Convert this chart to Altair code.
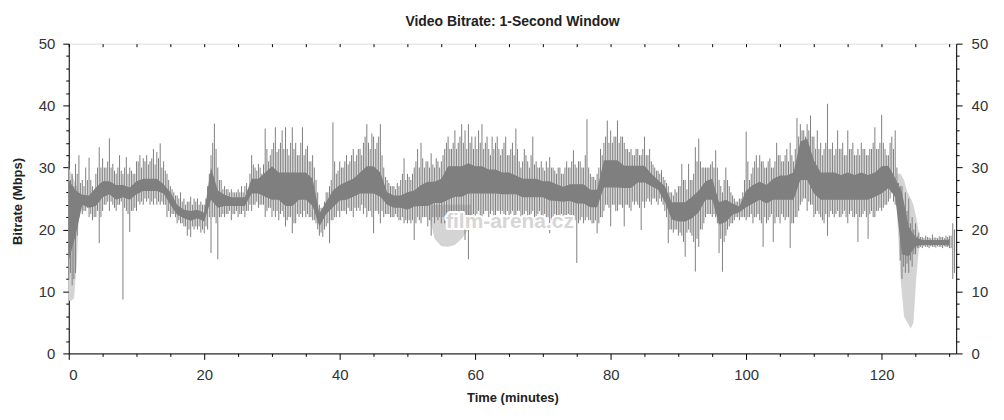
import altair as alt
import pandas as pd

# ---- data (Mbps) ----
# dense core band of the 1-second bitrate trace, one value per minute (t = 0..130)
core_lo = [15, 19, 24, 23.5, 23.8, 25.2, 25.7, 24.8, 25.2, 24.8,
           25.7, 26.2, 26.2, 26.2, 25.8, 24, 22.4, 21.8, 21.4, 21.8,
           21.3, 24.8, 23.5, 23.8, 23.8, 23.8, 23.8, 25.8, 25.8, 25.3,
           24.8, 24.8, 23.8, 23.8, 24.8, 24.8, 23.8, 20.5, 22.5, 23.6,
           24.7, 24.8, 25.3, 25.8, 25.8, 25.8, 25.3, 24, 23.5, 23.5,
           23.2, 23.7, 23.8, 23.8, 24.3, 24.3, 24.8, 25.3, 25.3, 25.8,
           25.8, 25.8, 25.8, 25.8, 25.7, 25.7, 25.7, 25.2, 25.2, 25.2,
           25.2, 24.7, 24.6, 24.5, 24.6, 24.2, 24.2, 23.6, 23.6, 26.8,
           26.8, 26.8, 26.7, 26.7, 27.6, 27.6, 27, 26.4, 24.5, 21.6,
           21.3, 21.3, 21.8, 22.8, 24.8, 24.8, 20.8, 21.2, 22.4, 22.8,
           23.6, 24.2, 24.8, 24.2, 24.8, 24.8, 24.8, 24.8, 28, 28,
           25.8, 24.8, 24.8, 24.8, 24.8, 24.8, 24.8, 24.8, 24.8, 25.3,
           25.8, 26.7, 25.2, 16, 15.7, 17.3, 17.5, 17.5, 17.5, 17.5,
           17.4]
core_hi = [28, 26.3, 25.6, 25.5, 26.8, 27.8, 27.8, 27.2, 27.2, 26.8,
           27.8, 28.2, 28.2, 28.2, 27.3, 26, 24, 23.2, 23, 23.2,
           22.7, 30, 26.3, 25.6, 25.2, 25.2, 25.2, 28.2, 28.2, 29.2,
           30.2, 29.2, 29.2, 29.2, 29.2, 29.2, 28.2, 22.6, 24.5, 26.3,
           27.2, 27.7, 28.2, 29.2, 30.2, 30.2, 29.2, 26, 25.5, 25.5,
           26, 26.3, 27.2, 27.7, 27.7, 28.2, 30.2, 30.2, 30.2, 30.7,
           30.2, 30.2, 29.7, 29.7, 29.2, 29.2, 28.7, 28.2, 28.2, 28.2,
           27.8, 27.8, 27.3, 26.9, 27.3, 27.3, 27.3, 26.4, 26.4, 31.2,
           31.2, 31.2, 30.3, 30.3, 30.3, 30.3, 29, 28, 27, 24.4,
           24.4, 24.4, 25.3, 26.3, 27.8, 28.2, 24.4, 24.8, 24.2, 23.7,
           26.3, 27.2, 27.7, 27.2, 28.2, 28.7, 28.7, 29.2, 34.2, 34.7,
           31.2, 29.2, 29.2, 29.2, 28.8, 29.2, 28.8, 29.2, 28.8, 29.2,
           30.2, 30.3, 28.3, 26, 20.4, 18.8, 18.3, 18.3, 18.3, 18.3,
           18.4]

# short-term extremes, one pair per half minute (t = 0, 0.5, ... 130.5)
spike_lo = [12, 11, 13, 22, 22.5, 23, 22, 21.5, 22, 17.8, 23, 24, 23, 24, 23, 24, 8.7, 23, 19.6, 23,
            23, 24, 24, 24.5, 24, 24, 24, 24, 24, 22, 22, 22.5, 21, 21, 20.5, 19, 18.8, 20, 20, 19.5,
            19.4, 20, 16.2, 22, 15.2, 22, 22, 22.5, 21.5, 22.5, 22, 22.5, 22, 23, 23, 24, 23.5, 24, 22, 23.5,
            22, 22, 21.5, 23, 20.5, 22, 19.4, 21, 22, 22, 22, 22, 21.5, 21, 19, 18.8, 20.5, 17.8, 21.5, 22,
            22, 23, 22.5, 23, 22, 23, 23, 22.5, 22, 23, 19.4, 23, 21, 22, 22.5, 22, 22, 22, 21.5, 21,
            21, 21, 18.3, 22, 21, 22, 20.5, 19, 21, 21.5, 21, 21, 21, 22, 21, 22, 22, 18.3, 15.2, 22,
            22, 23, 22, 23, 22, 23, 21.5, 23, 23, 22, 22, 23, 22, 23, 20.5, 23, 22, 23, 21.5, 23,
            22, 22, 19.4, 22, 22, 22, 21.5, 22, 22, 22, 14.6, 21.5, 21, 22, 21.5, 21, 19.4, 22, 23, 24,
            20.5, 24, 23, 24, 20.5, 24, 23, 24, 24, 19.9, 23.5, 25, 24, 25, 24, 24.5, 23, 17.8, 20, 20,
            19, 19, 15.6, 20, 19, 13.2, 17.2, 20, 22, 22.5, 22, 22, 16.2, 13.2, 19, 20.5, 21, 22, 21.5, 22,
            21.5, 22, 21, 22, 21.5, 17.2, 21, 22, 18, 22, 21, 22, 22, 17, 21, 22, 24, 25, 23, 24,
            22, 23, 22, 21, 19, 23, 22, 23, 22, 23, 21, 23, 22, 18, 22, 23, 18.5, 23, 22, 23,
            23, 24, 24.5, 26, 24, 23.5, 12, 13, 13, 14, 16, 17, 17, 17.2, 17, 17.2, 17.1, 17.2, 17, 17.2,
            17, 12]
spike_hi = [31, 29, 30.6, 32, 28, 30, 31.6, 27, 29, 33.3, 31.5, 30, 34.7, 30.6, 29, 32, 29, 31.7, 30, 29,
            31, 32, 31.5, 32, 31, 33, 32.5, 33.9, 31, 29, 27, 26, 25.5, 26, 25, 24.5, 25.3, 25, 25, 24.5,
            24, 27, 32, 37.1, 30, 28, 27, 26.5, 26.5, 26, 26.5, 27, 27, 26.5, 32, 30, 30.6, 29, 36.3, 31,
            33, 36.5, 33, 36, 36.5, 32, 36.5, 34, 32, 36.5, 33, 31, 32, 28, 24, 23.5, 26, 27, 37.3, 29,
            31, 30, 32, 31, 33, 32, 33, 34, 37, 33, 35, 34, 37, 30, 28, 27, 27, 27.5, 28, 31.5,
            29, 28, 30, 33, 34, 30, 31, 32.3, 30, 31, 31, 33, 35, 33, 36, 34, 37, 36, 37, 35,
            35, 36, 37, 34, 33, 35, 34, 33, 33, 35, 32, 34, 36.3, 31, 31, 32, 30, 35, 31, 30,
            30, 31, 31.7, 30, 29, 30, 29, 31, 30, 32.8, 30, 31, 30, 37.8, 29, 28.5, 29, 33, 34, 37.6,
            36, 35, 37.6, 35, 34, 33, 33, 32, 33, 32, 35, 32, 31, 30, 29.5, 29.6, 28, 27, 26, 26.5,
            27, 30.6, 28, 30.6, 28, 33.3, 34.7, 30, 30, 30, 31, 32.8, 28, 26, 30, 27, 25.5, 24.5, 25, 26,
            35.8, 28, 30, 32, 32, 31, 30, 31.5, 30, 34, 32, 31, 33, 34, 31, 38, 37, 36, 37, 38.4,
            35, 36, 34, 33, 40.3, 33, 32, 36, 33, 32, 36, 33, 32, 33, 34, 33, 32, 33, 36.5, 33,
            38.5, 33, 32, 35, 36, 27.5, 27, 26, 25, 22, 21, 19.5, 18.8, 19, 18.7, 19.2, 18.7, 18.9, 18.8, 19,
            19, 21]

# secondary swings between the extremes, one pair per half minute (t = 0.25, 0.75, ... 130.75)
mid_lo = [13, 12, 19, 23, 23, 23.5, 22.5, 22, 23, 22, 24, 24.5, 24.5, 23.5, 24, 24.5, 23.5, 22.5, 23, 23.5,
          24.5, 24.5, 25, 25, 24.5, 25, 24.5, 24.5, 24, 23, 22.5, 22, 21.5, 21, 20.5, 20, 20.5, 20.5, 20.5, 20,
          20.5, 22, 22, 21, 22, 22.5, 22.5, 23, 22.5, 23, 22.5, 23, 23, 24, 24, 24.5, 24, 24, 23, 23.5,
          23, 23, 22.5, 22, 21.5, 22, 21, 22.5, 22.5, 23, 22.5, 22, 21.5, 20, 19.5, 20, 21, 21.5, 22, 23,
          23, 23, 23.5, 23, 23.5, 23.5, 24, 23.5, 23, 22, 23, 22.5, 23, 22.5, 22.5, 22, 22.5, 21.5, 22, 21.5,
          21.5, 21.5, 21, 21.5, 22, 22, 21.5, 22, 22, 22, 22, 22, 22.5, 21.5, 22.5, 22, 22.5, 21, 22, 22.5,
          22.5, 22, 22.5, 23, 22.5, 22, 23, 22.5, 22.5, 23, 22.5, 22, 23, 22, 22.5, 22, 22.5, 22, 22.5, 22,
          22.5, 22, 21.5, 22.5, 22, 22.5, 22, 22.5, 22, 21.5, 21, 22, 21.5, 21.5, 21, 21.5, 21, 22, 24, 23.5,
          24, 23, 24, 23.5, 24, 23.5, 24.5, 24.5, 23.5, 24.5, 24.5, 24.5, 25, 24.5, 25, 24, 22, 20, 19.5, 20,
          19.5, 18, 19.5, 19.5, 18, 18.5, 20, 21, 22.5, 22.5, 22.5, 21, 18.5, 18, 20, 21, 21.5, 22, 22, 22,
          22, 22.5, 22, 22.5, 21, 22, 21.5, 22.5, 21, 22, 22.5, 21.5, 22, 21, 22, 23, 24.5, 25, 24.5, 24,
          22.5, 22.5, 21.5, 22.5, 22, 22.5, 22.5, 22, 22.5, 22, 22.5, 22, 22.5, 22, 22.5, 22, 22.5, 22, 23, 23.5,
          23.5, 24, 25, 24.5, 24, 15, 14, 14.5, 15, 16, 17, 17.2, 17.3, 17.2, 17.3, 17.2, 17.3, 17.2, 17.3, 17.2,
          17, 13]
mid_hi = [28, 27, 29, 27.5, 27, 28, 28, 26, 30, 30, 30, 31, 30, 29.5, 30, 29.5, 30, 29, 29.5, 29,
          31, 30, 31, 30.5, 31.5, 30.5, 31.5, 30, 29.5, 28, 26.5, 25.5, 25, 24.5, 24, 24.5, 24, 24.5, 24, 24,
          25, 29, 34, 33, 28, 26.5, 26.5, 26, 26, 26, 26, 26, 27.5, 29, 30.5, 29.5, 30, 30.5, 33, 32,
          34, 32.5, 34, 33, 33, 34, 33, 32, 34, 32, 33.5, 31, 30, 26, 23.5, 24.5, 26, 28, 31, 29.5,
          30, 31, 30.5, 32, 31, 33, 32, 35, 34, 35.5, 33, 35, 32, 28.5, 27.5, 27, 26.5, 27, 29, 28,
          28.5, 29, 31, 30, 31.5, 31, 30, 30.5, 31.5, 30, 32, 34, 33, 34, 33, 35, 34, 33, 34, 33,
          33, 34, 33, 35, 32, 33, 35, 32, 34, 32, 33, 32, 33, 30, 33, 31, 32, 30.5, 30, 31,
          29.5, 30, 30, 29.5, 30, 29, 30, 30, 31, 30.5, 31, 30, 32, 30, 28.5, 28, 30, 32, 35, 34,
          34, 35, 34, 35, 33, 32.5, 32, 33, 32, 33, 32, 33, 30.5, 29.5, 29, 28.5, 27.5, 26, 25.5, 26,
          27, 28, 26.5, 28, 29, 31, 31, 30, 30, 30.5, 30, 30, 27, 28, 28, 26, 25, 24.5, 25, 28,
          31, 29, 31, 30, 31, 30, 31, 30, 31, 32, 31, 32, 31, 32, 33, 35, 36, 35, 36, 35,
          33, 33, 32, 34, 33, 34, 33, 33, 34, 32, 33, 34, 32, 32, 33, 32, 33, 34, 33, 34,
          34, 32, 34, 33, 30, 27, 24, 23, 21, 20, 19, 18.8, 18.6, 18.8, 18.6, 18.7, 18.6, 18.8, 18.6, 18.8,
          19, 20]

# light-grey outer envelope where it shows outside the dark trace
env_seg = ["a"] * 5 + ["b"] * 8 + ["c"] * 8
env_t = [0, 0.4, 0.8, 1.2, 1.5,
         53.3, 54, 55, 56, 57, 58, 59, 59.4,
         122.3, 122.8, 123.3, 123.8, 124.3, 124.7, 125.1, 125.5]
env_lo = [8.5, 8.5, 9, 15, 22,
          22, 18.5, 17.3, 17.2, 17.5, 18.5, 20, 22,
          22, 12, 6, 5, 4, 5, 12, 17]
env_hi = [30, 29, 28, 27, 26,
          24, 24, 24, 24, 24, 24, 24, 24,
          29, 29, 28, 26, 25, 24, 22, 19.5]

title_text = "Video Bitrate: 1-Second Window"
x_title = "Time (minutes)"
y_title = "Bitrate (Mbps)"
watermark = "film-arena.cz"

# ---- tables ----
core_df = pd.DataFrame({"t": list(range(len(core_lo))), "lo": core_lo, "hi": core_hi})
rule_df = pd.concat([
    pd.DataFrame({"t": [i * 0.5 for i in range(len(spike_lo))], "lo": spike_lo, "hi": spike_hi}),
    pd.DataFrame({"t": [i * 0.5 + 0.25 for i in range(len(mid_lo))], "lo": mid_lo, "hi": mid_hi}),
], ignore_index=True)
env_df = pd.DataFrame({"t": env_t, "lo": env_lo, "hi": env_hi, "seg": env_seg})

FONT = "Liberation Sans"
DARK = "#7f7f7f"
LIGHT = "#d4d4d4"

xscale = alt.Scale(domain=[0, 131], nice=False, zero=False)
yscale = alt.Scale(domain=[0, 50], nice=False)

x_ticks = list(range(0, 131, 5))
y_ticks = list(range(0, 51, 2))

common_axis = dict(labelFont=FONT, labelFontSize=15, labelColor="#333333",
                   tickColor="#000000", domainColor="#000000", grid=False,
                   titleFont=FONT, titleFontSize=13, titleFontWeight="bold", titleColor="#222222")

x_bottom = alt.Axis(orient="bottom", values=x_ticks, format="d",
                    labelExpr="datum.value % 20 === 0 ? datum.label : ''",
                    tickSize={"condition": {"test": "datum.value % 20 === 0", "value": 6}, "value": 3},
                    labelPadding=8, title=x_title, titleY=44, titleBaseline="middle",
                    **common_axis)
x_top = alt.Axis(orient="top", values=x_ticks, labels=False, domain=False,
                 offset=-3, tickSize=3, title="", **common_axis)
y_left = alt.Axis(orient="left", values=y_ticks, format="d",
                  labelExpr="datum.value % 10 === 0 ? datum.label : ''",
                  tickSize={"condition": {"test": "datum.value % 10 === 0", "value": 6}, "value": 3},
                  labelPadding=8, title=y_title, titleX=-51, titleY=158,
                  titleAngle=270, titleBaseline="middle", **common_axis)
y_right = alt.Axis(orient="right", values=y_ticks, format="d",
                   labelExpr="datum.value % 10 === 0 ? datum.label : ''",
                   tickSize={"condition": {"test": "datum.value % 10 === 0", "value": 6}, "value": 3},
                   labelPadding=9, title="", **common_axis)

env = alt.Chart(env_df).mark_area(color=LIGHT, interpolate="linear").encode(
    x=alt.X("t:Q", scale=xscale, axis=x_top),
    y=alt.Y("lo:Q", scale=yscale, axis=y_right),
    y2="hi:Q",
    detail="seg:N",
)

rules = alt.Chart(rule_df).mark_rule(color=DARK, strokeWidth=1).encode(
    x=alt.X("t:Q", scale=xscale, axis=None),
    y=alt.Y("lo:Q", scale=yscale, axis=None),
    y2="hi:Q",
)

core = alt.Chart(core_df).mark_area(color=DARK, interpolate="linear").encode(
    x=alt.X("t:Q", scale=xscale, axis=x_bottom),
    y=alt.Y("lo:Q", scale=yscale, axis=y_left),
    y2="hi:Q",
)

wm_df = pd.DataFrame({"label": [watermark]})
wm_outline = alt.Chart(wm_df).mark_text(
    font=FONT, fontSize=21, fontWeight="bold", color="#ffffff",
    stroke="#ffffff", strokeWidth=4, strokeJoin="round", align="center", baseline="middle"
).encode(text="label:N", x=alt.value(443), y=alt.value(179))
wm_fill = alt.Chart(wm_df).mark_text(
    font=FONT, fontSize=21, fontWeight="bold", color="#d6d6d6",
    align="center", baseline="middle"
).encode(text="label:N", x=alt.value(443), y=alt.value(179))

chart = alt.layer(env, rules, core, wm_outline, wm_fill).properties(
    width=891, height=311,
    padding={"left": 61, "top": 35, "right": 40, "bottom": 55},
    autosize="none",
    title=alt.Title(title_text, font=FONT, fontSize=14, fontWeight="bold",
                    color="#222222", anchor="middle", offset=8),
).configure_view(stroke="#000000", strokeWidth=1).configure(background="#ffffff")

chart.save("out.html", embed_options={"renderer": "svg", "actions": False})
